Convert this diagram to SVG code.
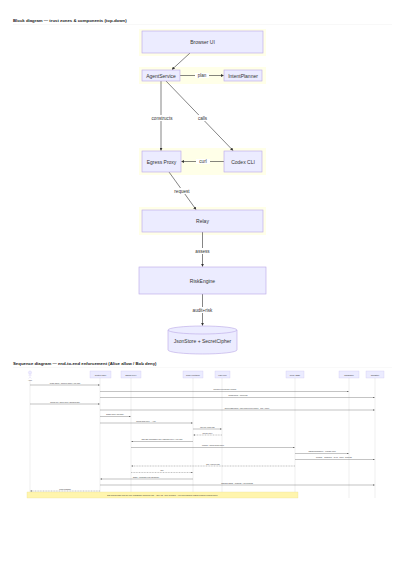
<svg xmlns="http://www.w3.org/2000/svg" width="405" height="573" viewBox="0 0 405 573">
<defs>
<style>
.title{font-family:"Liberation Sans",Arial,sans-serif;font-size:4.3px;font-weight:bold;fill:#222}
.zone{fill:#ffffe8;stroke:none}
.node{fill:#ececff;stroke:#b9a6e6;stroke-width:0.6}
.nt{font-family:"Liberation Sans",Arial,sans-serif;font-size:5px;fill:#333;text-anchor:middle;dominant-baseline:central}
.edge{fill:none;stroke:#333;stroke-width:0.6}
.el{font-family:"Liberation Sans",Arial,sans-serif;font-size:4.6px;fill:#333;text-anchor:middle;dominant-baseline:central}
.elbg{fill:#fff}
.pbox{fill:#ececff;stroke:#c9bff0;stroke-width:0.3}
.pt{font-family:"Liberation Sans",Arial,sans-serif;font-size:1.9px;fill:#333;text-anchor:middle;dominant-baseline:central}
.life{stroke:#d6d6d6;stroke-width:0.4}
.msg{stroke:#555;stroke-width:0.35;fill:none}
.dash{stroke-dasharray:1,0.6}
.mt{font-family:"Liberation Sans",Arial,sans-serif;font-size:1.7px;fill:#333;text-anchor:middle}
.note{fill:#fff5ad;stroke:#e6dc8a;stroke-width:0.3}
</style>
<marker id="ah" viewBox="0 0 10 10" refX="9" refY="5" markerWidth="5" markerHeight="5" orient="auto-start-reverse"><path d="M0,0 L10,5 L0,10 z" fill="#333"/></marker>
<marker id="sh" viewBox="0 0 10 10" refX="9" refY="5" markerWidth="4" markerHeight="4" orient="auto-start-reverse"><path d="M0,0 L10,5 L0,10 z" fill="#444"/></marker>
</defs>
<rect width="405" height="573" fill="#fff"/>

<text class="title" x="13" y="21.5">Block diagram — trust zones &amp; components (top-down)</text>
<line x1="13" y1="24.5" x2="392" y2="24.5" stroke="#eee" stroke-width="0.4"/>

<g id="zones">
<rect class="zone" x="139" y="29" width="127" height="27"/>
<rect class="zone" x="139" y="67" width="127" height="17"/>
<rect class="zone" x="139" y="148" width="127" height="27"/>
<rect class="zone" x="139" y="207" width="127" height="28"/>
</g>

<g id="connectors">
<path class="edge" d="M190,53 L172,69.5" marker-end="url(#ah)"/>
<path class="edge" d="M180,75.5 L223.5,75.5" marker-end="url(#ah)"/>
<path class="edge" d="M161,81 L161,150.5" marker-end="url(#ah)"/>
<path class="edge" d="M166,81 L233,150.5" marker-end="url(#ah)"/>
<path class="edge" d="M224,161.5 L181.5,161.5" marker-end="url(#ah)"/>
<path class="edge" d="M169,172 L196,209.5" marker-end="url(#ah)"/>
<path class="edge" d="M202.5,232 L202.5,266.5" marker-end="url(#ah)"/>
<path class="edge" d="M202.5,294 L202.5,325.5" marker-end="url(#ah)"/>
<rect class="elbg" x="195" y="73" width="14" height="5"/>
<text class="el" x="202" y="75.5">plan</text>
<rect class="elbg" x="146" y="115" width="32" height="6"/>
<text class="el" x="162" y="118">constructs</text>
<rect class="elbg" x="196" y="115" width="13" height="6"/>
<text class="el" x="202.5" y="118">calls</text>
<rect class="elbg" x="196" y="159" width="14" height="5"/>
<text class="el" x="203" y="161.5">curl</text>
<rect class="elbg" x="171" y="188" width="22" height="6"/>
<text class="el" x="182" y="191">request</text>
<rect class="elbg" x="193" y="248" width="19" height="6"/>
<text class="el" x="202.5" y="251">assess</text>
<rect class="elbg" x="189" y="307" width="27" height="6"/>
<text class="el" x="202.5" y="310">audit+risk</text>
</g>

<g id="browser-ui"><rect class="node" x="142" y="31" width="121" height="22"/><text class="nt" x="202.5" y="42">Browser UI</text></g>
<g id="agent-service"><rect class="node" x="142" y="70" width="38" height="11"/><text class="nt" x="161" y="75.5">AgentService</text></g>
<g id="intent-planner"><rect class="node" x="224" y="70" width="38" height="11"/><text class="nt" x="243" y="75.5">IntentPlanner</text></g>
<g id="egress-proxy"><rect class="node" x="142" y="151" width="39" height="21"/><text class="nt" x="161.5" y="161.5">Egress Proxy</text></g>
<g id="codex-cli"><rect class="node" x="224" y="151" width="38" height="21"/><text class="nt" x="243" y="161.5">Codex CLI</text></g>
<g id="relay"><rect class="node" x="142" y="210" width="121" height="22"/><text class="nt" x="202.5" y="221">Relay</text></g>
<g id="risk-engine"><rect class="node" x="139" y="267" width="127" height="27"/><text class="nt" x="202.5" y="280.5">RiskEngine</text></g>
<g id="store">
<path class="node" d="M168,330 A34.5,4 0 0 1 237,330 L237,350 A34.5,4 0 0 1 168,350 Z"/>
<path d="M168,330 A34.5,4 0 0 0 237,330" fill="none" stroke="#b9a6e6" stroke-width="0.6"/>
<text class="nt" x="202.5" y="341">JsonStore + SecretCipher</text>
</g>

<text class="title" x="13" y="364.5">Sequence diagram — end-to-end enforcement (Alice allow / Bob deny)</text>
<line x1="13" y1="367.5" x2="392" y2="367.5" stroke="#f0f0f0" stroke-width="0.4"/>

<g id="lifelines">
<line class="life" x1="30" y1="381" x2="30" y2="498"/>
<line class="life" x1="100" y1="378" x2="100" y2="498"/>
<line class="life" x1="131" y1="378" x2="131" y2="498"/>
<line class="life" x1="193" y1="378" x2="193" y2="498"/>
<line class="life" x1="222" y1="378" x2="222" y2="498"/>
<line class="life" x1="295" y1="378" x2="295" y2="498"/>
<line class="life" x1="349" y1="378" x2="349" y2="498"/>
<line class="life" x1="375" y1="378" x2="375" y2="498"/>
</g>

<g id="alice">
<circle cx="30" cy="372.5" r="1.6" fill="#ececff" stroke="#c9bff0" stroke-width="0.3"/>
<path d="M30,374 L30,377 M28.3,375.2 L31.7,375.2 M30,377 L28.6,378.6 M30,377 L31.4,378.6" stroke="#c9bff0" stroke-width="0.3" fill="none"/>
<text class="pt" x="30" y="380.3">Alice</text>
</g>
<g id="control-plane"><rect class="pbox" x="90" y="371" width="21" height="7"/><text class="pt" x="100.5" y="374.5">Control Plane</text></g>
<g id="p-egress-proxy"><rect class="pbox" x="121" y="371" width="20" height="7"/><text class="pt" x="131" y="374.5">Egress Proxy</text></g>
<g id="codex-container"><rect class="pbox" x="183" y="371" width="20" height="7"/><text class="pt" x="193" y="374.5">Codex container</text></g>
<g id="fake-llm"><rect class="pbox" x="215" y="371" width="15" height="7"/><text class="pt" x="222.5" y="374.5">Fake LLM</text></g>
<g id="p-relay"><rect class="pbox" x="286" y="371" width="18" height="7"/><text class="pt" x="295" y="374.5">Relay (SSE)</text></g>
<g id="p-riskengine"><rect class="pbox" x="339" y="371" width="20" height="7"/><text class="pt" x="349" y="374.5">RiskEngine</text></g>
<g id="p-jsonstore"><rect class="pbox" x="366" y="371" width="18" height="7"/><text class="pt" x="375" y="374.5">JsonStore</text></g>

<g id="messages">
<line class="msg" x1="30" y1="385" x2="99.5" y2="385" marker-end="url(#sh)"/>
<text class="mt" x="65" y="383.6">create agent + approve intent (Alice flag)</text>
<line class="msg" x1="100" y1="391.5" x2="348.5" y2="391.5" marker-end="url(#sh)"/>
<text class="mt" x="225" y="390.1">securityLevelForFlow (verifies)</text>
<line class="msg" x1="100" y1="397.5" x2="374.5" y2="397.5" marker-end="url(#sh)"/>
<text class="mt" x="238" y="396.1">persist agent + intent flow</text>
<line class="msg" x1="30" y1="404" x2="99.5" y2="404" marker-end="url(#sh)"/>
<text class="mt" x="65" y="402.6">launch run / intent (proxy launches flag)</text>
<line class="msg" x1="100" y1="410" x2="374.5" y2="410" marker-end="url(#sh)"/>
<text class="mt" x="247" y="408.6">saveFlowDecision · flow id saved (per-scope) · flow + token</text>
<line class="msg" x1="100" y1="416.5" x2="130.5" y2="416.5" marker-end="url(#sh)"/>
<text class="mt" x="115" y="415.1">spawn codex (flavorise)</text>
<line class="msg" x1="100" y1="423" x2="192.5" y2="423" marker-end="url(#sh)"/>
<text class="mt" x="146" y="421.6">launch fetch proxy → VPF</text>
<line class="msg" x1="193" y1="429" x2="221.5" y2="429" marker-end="url(#sh)"/>
<text class="mt" x="207.5" y="427.6">tool call / fetch URL</text>
<line class="msg dash" x1="222" y1="435" x2="193.5" y2="435" marker-end="url(#sh)"/>
<text class="mt" x="207.5" y="433.6">curl the proxy</text>
<line class="msg" x1="193" y1="441.5" x2="131.5" y2="441.5" marker-end="url(#sh)"/>
<text class="mt" x="162" y="440.1">GET http://allowlisted (MPI) outbound proxy (Alice flag)</text>
<line class="msg" x1="131" y1="447.5" x2="294.5" y2="447.5" marker-end="url(#sh)"/>
<text class="mt" x="213" y="446.1">forward + agent flavour token</text>
<line class="msg" x1="295" y1="453.5" x2="348.5" y2="453.5" marker-end="url(#sh)"/>
<text class="mt" x="322" y="452.1">assess(agentToken) · evaluate rules</text>
<line class="msg" x1="295" y1="459.5" x2="374.5" y2="459.5" marker-end="url(#sh)"/>
<text class="mt" x="334" y="458.1">decision = allow/deny · no-op · token · audit.risk</text>
<line class="msg dash" x1="295" y1="466" x2="131.5" y2="466" marker-end="url(#sh)"/>
<text class="mt" x="213" y="464.6">200 / relayed resp</text>
<line class="msg dash" x1="131" y1="472.5" x2="192.5" y2="472.5" marker-end="url(#sh)"/>
<text class="mt" x="162" y="471.1">200</text>
<line class="msg" x1="193" y1="479" x2="100.5" y2="479" marker-end="url(#sh)"/>
<text class="mt" x="146" y="477.6">status + progress event (streamed)</text>
<line class="msg" x1="100" y1="485" x2="374.5" y2="485" marker-end="url(#sh)"/>
<text class="mt" x="237" y="483.6">markRun status + progress + run.progress</text>
<line class="msg dash" x1="100" y1="491" x2="30.5" y2="491" marker-end="url(#sh)"/>
<text class="mt" x="65" y="489.6">report message</text>
</g>

<g id="note">
<rect class="note" x="27" y="492" width="271" height="6"/>
<text class="mt" x="162.5" y="495.6">Bob runs the same flow: the relay (RiskEngine) denies the flag → step 403 · deny is audited · Alice flow continues; nothing reaches a running queue</text>
</g>
</svg>
